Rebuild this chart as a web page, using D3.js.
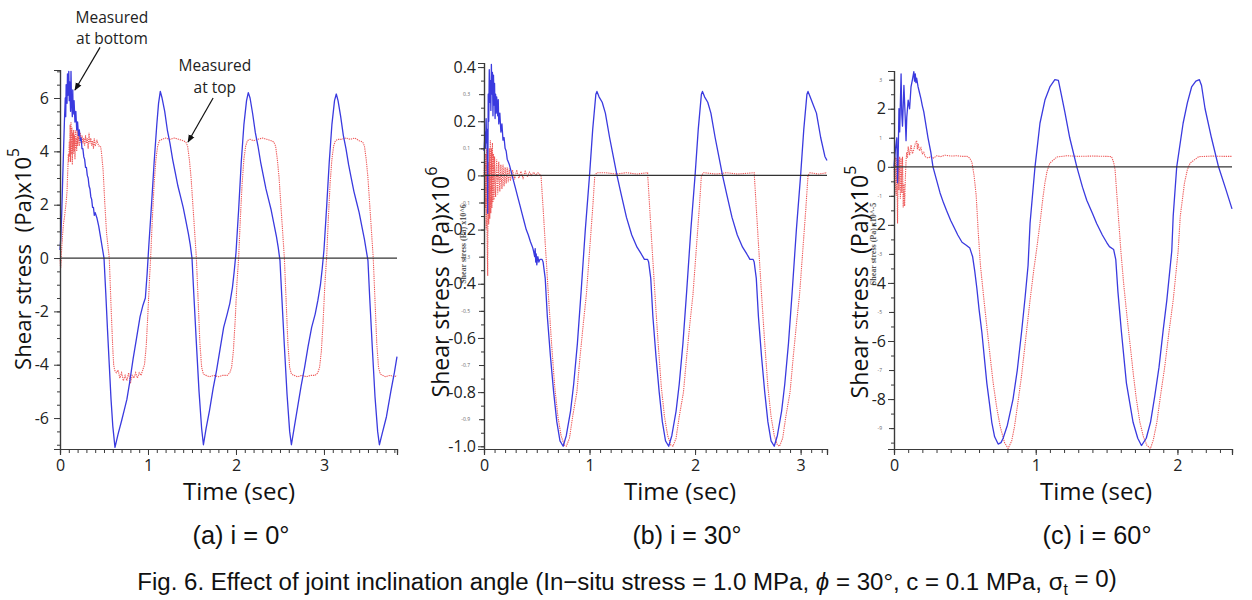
<!DOCTYPE html>
<html><head><meta charset="utf-8">
<script src="https://cdn.jsdelivr.net/npm/d3@7"></script>
<style>body{margin:0;background:#fff}svg{display:block}</style>
</head><body>
<svg id="fig" width="1252" height="600"></svg>
<script>
// ---------------- DATA (time s, shear stress) ----------------
// Panel (a) i = 0°, units x10^5 Pa
const a_bottom = [[0,0.3],[0.01,0.8],[0.02,1.7],[0.03,2.9],[0.04,4.0],[0.05,5.1],[0.06,6.0],[0.065,5.3],[0.07,6.5],[0.08,5.8],[0.085,6.9],[0.09,6.1],[0.10,7.0],[0.105,5.9],[0.11,6.6],[0.12,5.5],[0.125,7.0],[0.13,6.0],[0.14,5.3],[0.145,6.3],[0.15,5.4],[0.16,5.9],[0.17,5.1],[0.18,5.5],[0.19,4.8],[0.20,5.1],[0.21,4.6],[0.22,4.8],[0.23,4.4],[0.24,4.5],[0.25,4.1],[0.26,4.1],[0.27,3.8],[0.28,3.7],[0.29,3.4],[0.30,3.4],[0.31,3.1],[0.32,3.0],[0.33,2.7],[0.34,2.6],[0.35,2.3],[0.36,2.2],[0.37,1.9],[0.38,1.9],[0.39,1.6],[0.40,1.7],[0.42,1.5],[0.44,1.2],[0.46,0.8],[0.48,0.4],[0.50,0.0],[0.52,-1.3],[0.54,-2.7],[0.56,-4.0],[0.58,-5.3],[0.60,-6.3],[0.625,-7.1],[0.66,-6.6],[0.70,-6.1],[0.73,-5.7],[0.76,-5.3],[0.79,-4.7],[0.83,-3.8],[0.87,-3.0],[0.91,-2.2],[0.94,-1.8],[0.97,-1.5],[0.99,-0.6],[1.01,0.5],[1.04,2.0],[1.07,3.6],[1.10,5.0],[1.12,5.8],[1.14,6.25],[1.16,6.0],[1.19,5.5],[1.22,4.8],[1.25,4.3],[1.28,3.7],[1.31,3.2],[1.34,2.7],[1.37,2.3],[1.40,1.9],[1.43,1.4],[1.46,0.9],[1.48,0.5],[1.50,0.0],[1.52,-1.3],[1.55,-3.2],[1.58,-5.0],[1.61,-6.4],[1.63,-7.0],[1.66,-6.4],[1.70,-5.7],[1.74,-4.9],[1.78,-4.2],[1.82,-3.4],[1.86,-2.6],[1.90,-2.1],[1.93,-1.7],[1.96,-1.1],[1.98,-0.5],[2.00,0.2],[2.03,1.8],[2.06,3.6],[2.09,5.0],[2.12,5.9],[2.14,6.2],[2.16,6.0],[2.19,5.4],[2.22,4.7],[2.25,4.2],[2.28,3.6],[2.31,3.1],[2.34,2.6],[2.37,2.2],[2.40,1.8],[2.43,1.3],[2.46,0.8],[2.48,0.4],[2.50,-0.1],[2.52,-1.4],[2.55,-3.3],[2.58,-5.1],[2.61,-6.5],[2.63,-7.0],[2.66,-6.4],[2.70,-5.6],[2.74,-4.8],[2.78,-4.1],[2.82,-3.3],[2.86,-2.6],[2.90,-2.1],[2.93,-1.6],[2.96,-1.0],[2.98,-0.4],[3.00,0.3],[3.03,1.9],[3.06,3.6],[3.09,5.0],[3.12,5.9],[3.14,6.15],[3.16,5.9],[3.19,5.3],[3.22,4.6],[3.25,4.1],[3.28,3.5],[3.31,3.0],[3.34,2.5],[3.37,2.1],[3.40,1.7],[3.43,1.2],[3.46,0.7],[3.48,0.3],[3.50,-0.1],[3.52,-1.5],[3.55,-3.4],[3.58,-5.2],[3.61,-6.5],[3.63,-7.0],[3.66,-6.6],[3.71,-5.95],[3.76,-5.0],[3.80,-4.3],[3.83,-3.7]];
const a_top = [[0,0],[0.005,-0.3],[0.01,-0.35],[0.015,0.1],[0.02,0.4],[0.03,0.9],[0.04,1.3],[0.05,1.5],[0.06,1.8],[0.07,2.1],[0.08,2.5],[0.085,3.0],[0.09,3.4],[0.095,3.9],[0.10,3.6],[0.105,4.4],[0.11,3.8],[0.115,5.0],[0.12,3.6],[0.125,5.1],[0.13,3.9],[0.135,4.9],[0.14,3.5],[0.145,4.7],[0.15,3.9],[0.155,4.8],[0.16,4.0],[0.165,4.6],[0.17,3.7],[0.175,4.8],[0.18,4.1],[0.185,4.5],[0.19,4.0],[0.195,4.9],[0.20,4.2],[0.21,4.6],[0.22,4.2],[0.23,4.7],[0.24,4.3],[0.25,4.6],[0.26,4.3],[0.27,4.5],[0.28,4.2],[0.29,4.6],[0.30,4.3],[0.31,4.5],[0.32,4.1],[0.33,4.7],[0.34,4.3],[0.35,4.5],[0.36,4.2],[0.37,4.4],[0.38,4.1],[0.39,4.5],[0.40,4.2],[0.42,4.4],[0.44,4.2],[0.46,4.2],[0.47,4.0],[0.49,3.3],[0.51,2.0],[0.53,0.9],[0.56,0],[0.58,-1.8],[0.60,-3.4],[0.61,-4.0],[0.62,-4.2],[0.64,-4.3],[0.66,-4.2],[0.68,-4.5],[0.70,-4.3],[0.72,-4.6],[0.74,-4.4],[0.76,-4.6],[0.78,-4.3],[0.80,-4.7],[0.82,-4.4],[0.84,-4.5],[0.86,-4.3],[0.88,-4.5],[0.90,-4.3],[0.92,-4.4],[0.94,-4.2],[0.96,-4.0],[0.98,-3.3],[1.00,-2.0],[1.02,-0.6],[1.03,0],[1.05,1.5],[1.07,2.8],[1.09,3.7],[1.11,4.2],[1.13,4.4],[1.16,4.45],[1.20,4.5],[1.25,4.45],[1.30,4.5],[1.35,4.45],[1.40,4.4],[1.43,4.35],[1.45,4.2],[1.47,3.7],[1.49,3.0],[1.51,2.0],[1.53,1.0],[1.55,0],[1.57,-1.6],[1.59,-3.2],[1.61,-4.1],[1.63,-4.35],[1.66,-4.4],[1.70,-4.45],[1.75,-4.4],[1.80,-4.45],[1.85,-4.4],[1.90,-4.4],[1.93,-4.3],[1.95,-4.1],[1.97,-3.5],[1.99,-2.4],[2.01,-1.0],[2.03,0],[2.05,1.5],[2.07,2.8],[2.09,3.7],[2.11,4.2],[2.13,4.4],[2.16,4.45],[2.20,4.4],[2.25,4.45],[2.30,4.5],[2.35,4.45],[2.40,4.4],[2.43,4.35],[2.45,4.2],[2.47,3.7],[2.49,3.0],[2.51,2.0],[2.53,1.0],[2.55,0],[2.57,-1.6],[2.59,-3.2],[2.61,-4.1],[2.63,-4.35],[2.66,-4.4],[2.70,-4.45],[2.75,-4.4],[2.80,-4.45],[2.85,-4.4],[2.90,-4.4],[2.93,-4.3],[2.95,-4.1],[2.97,-3.5],[2.99,-2.4],[3.01,-1.0],[3.03,0],[3.05,1.5],[3.07,2.8],[3.09,3.7],[3.11,4.2],[3.13,4.4],[3.16,4.45],[3.20,4.45],[3.25,4.5],[3.30,4.45],[3.35,4.5],[3.40,4.4],[3.44,4.35],[3.46,4.2],[3.48,3.7],[3.50,3.0],[3.52,2.0],[3.54,1.0],[3.56,0],[3.58,-1.6],[3.60,-3.2],[3.62,-4.1],[3.64,-4.35],[3.67,-4.4],[3.70,-4.45],[3.75,-4.4],[3.80,-4.45],[3.83,-4.4]];

// Panel (b) i = 30°, units x10^6 Pa
const b_bottom = [[0,0.09],[0.01,0.16],[0.015,0.1],[0.02,0.21],[0.025,0.12],[0.03,0.17],[0.035,-0.14],[0.04,0.3],[0.045,0.2],[0.05,0.39],[0.055,0.27],[0.06,0.35],[0.065,0.24],[0.07,0.41],[0.075,0.3],[0.08,0.38],[0.085,0.22],[0.09,0.37],[0.095,0.26],[0.10,0.34],[0.105,0.21],[0.11,0.3],[0.115,0.23],[0.12,0.29],[0.13,0.22],[0.135,0.28],[0.14,0.19],[0.15,0.23],[0.16,0.16],[0.17,0.19],[0.18,0.13],[0.19,0.14],[0.20,0.1],[0.21,0.09],[0.22,0.06],[0.24,0.04],[0.26,0.01],[0.28,-0.02],[0.30,-0.05],[0.32,-0.08],[0.34,-0.11],[0.36,-0.14],[0.38,-0.17],[0.40,-0.2],[0.42,-0.22],[0.44,-0.245],[0.46,-0.265],[0.47,-0.28],[0.48,-0.3],[0.485,-0.27],[0.49,-0.32],[0.495,-0.29],[0.50,-0.33],[0.51,-0.3],[0.52,-0.32],[0.53,-0.31],[0.55,-0.31],[0.56,-0.32],[0.58,-0.38],[0.60,-0.52],[0.63,-0.67],[0.66,-0.8],[0.69,-0.91],[0.72,-0.98],[0.75,-1.0],[0.78,-0.96],[0.82,-0.87],[0.85,-0.77],[0.885,-0.62],[0.92,-0.43],[0.96,-0.2],[1.00,0],[1.03,0.17],[1.06,0.3],[1.07,0.31],[1.09,0.29],[1.12,0.27],[1.15,0.23],[1.19,0.14],[1.23,0.06],[1.26,0],[1.30,-0.07],[1.35,-0.155],[1.40,-0.22],[1.45,-0.265],[1.49,-0.29],[1.52,-0.31],[1.55,-0.31],[1.56,-0.32],[1.58,-0.38],[1.60,-0.52],[1.63,-0.67],[1.66,-0.8],[1.69,-0.91],[1.72,-0.98],[1.75,-1.0],[1.78,-0.96],[1.82,-0.87],[1.85,-0.77],[1.885,-0.62],[1.92,-0.43],[1.96,-0.2],[2.00,0],[2.03,0.17],[2.06,0.3],[2.07,0.31],[2.09,0.29],[2.12,0.27],[2.15,0.23],[2.19,0.14],[2.23,0.06],[2.26,0],[2.30,-0.07],[2.35,-0.155],[2.40,-0.22],[2.45,-0.265],[2.49,-0.29],[2.52,-0.31],[2.55,-0.31],[2.56,-0.32],[2.58,-0.38],[2.60,-0.52],[2.63,-0.67],[2.66,-0.8],[2.69,-0.91],[2.72,-0.98],[2.75,-1.0],[2.78,-0.96],[2.82,-0.87],[2.85,-0.77],[2.885,-0.62],[2.92,-0.43],[2.96,-0.2],[3.00,0],[3.03,0.17],[3.06,0.3],[3.07,0.31],[3.09,0.29],[3.12,0.26],[3.15,0.23],[3.19,0.14],[3.23,0.07],[3.25,0.055]];
const b_top = [[0,0],[0.005,0.05],[0.01,-0.12],[0.015,0.08],[0.02,-0.2],[0.025,0.1],[0.03,-0.25],[0.035,-0.37],[0.04,0.05],[0.045,-0.18],[0.05,0.1],[0.055,-0.16],[0.06,0.13],[0.065,-0.14],[0.07,0.1],[0.075,-0.12],[0.08,0.12],[0.085,-0.1],[0.09,0.08],[0.095,-0.09],[0.10,0.07],[0.11,-0.08],[0.12,0.06],[0.13,-0.07],[0.14,0.05],[0.15,-0.06],[0.16,0.04],[0.17,-0.05],[0.18,0.04],[0.19,-0.04],[0.20,0.03],[0.21,-0.03],[0.22,0.03],[0.23,-0.025],[0.24,0.025],[0.25,-0.02],[0.27,0.02],[0.29,-0.015],[0.31,0.02],[0.33,-0.01],[0.35,0.015],[0.37,-0.01],[0.39,0.015],[0.41,-0.005],[0.43,0.012],[0.45,0],[0.47,0.012],[0.49,0],[0.51,0.01],[0.54,0],[0.56,-0.12],[0.58,-0.25],[0.61,-0.44],[0.64,-0.62],[0.67,-0.78],[0.70,-0.89],[0.73,-0.96],[0.76,-0.995],[0.78,-1.0],[0.81,-0.97],[0.84,-0.89],[0.88,-0.8],[0.91,-0.67],[0.94,-0.55],[0.97,-0.44],[1.00,-0.28],[1.03,-0.12],[1.05,0],[1.07,0.01],[1.15,0.01],[1.25,0.005],[1.35,0.01],[1.45,0.005],[1.55,0.01],[1.57,-0.12],[1.59,-0.25],[1.62,-0.44],[1.65,-0.62],[1.68,-0.78],[1.71,-0.89],[1.74,-0.96],[1.77,-0.995],[1.79,-1.0],[1.82,-0.97],[1.85,-0.89],[1.89,-0.8],[1.92,-0.67],[1.95,-0.55],[1.98,-0.44],[2.01,-0.28],[2.04,-0.12],[2.06,0],[2.08,0.01],[2.2,0.005],[2.3,0.01],[2.4,0.005],[2.56,0.01],[2.58,-0.12],[2.60,-0.25],[2.63,-0.44],[2.66,-0.62],[2.69,-0.78],[2.72,-0.89],[2.75,-0.96],[2.78,-0.995],[2.80,-1.0],[2.83,-0.97],[2.86,-0.89],[2.90,-0.8],[2.93,-0.67],[2.96,-0.55],[2.99,-0.44],[3.02,-0.28],[3.05,-0.12],[3.07,0],[3.09,0.01],[3.17,0.005],[3.25,0.01]];

// Panel (c) i = 60°, units x10^5 Pa
const c_bottom = [[0,0],[0.01,0.6],[0.02,1.0],[0.025,-0.55],[0.03,0.5],[0.035,2.0],[0.04,1.2],[0.05,3.2],[0.055,1.8],[0.06,1.4],[0.07,2.8],[0.08,1.6],[0.085,0.9],[0.09,1.7],[0.10,2.3],[0.11,2.0],[0.12,2.75],[0.13,3.0],[0.14,3.28],[0.145,2.95],[0.15,3.2],[0.155,2.9],[0.16,3.05],[0.17,2.75],[0.18,2.55],[0.19,2.35],[0.20,2.1],[0.21,1.9],[0.22,1.6],[0.23,1.3],[0.24,1.0],[0.26,0.5],[0.275,0],[0.30,-0.45],[0.325,-0.9],[0.35,-1.25],[0.37,-1.5],[0.40,-1.85],[0.42,-2.05],[0.45,-2.35],[0.48,-2.6],[0.51,-2.7],[0.535,-2.8],[0.555,-3.1],[0.57,-3.6],[0.585,-4.2],[0.60,-4.9],[0.62,-5.7],[0.64,-6.7],[0.655,-7.45],[0.675,-8.2],[0.69,-8.8],[0.71,-9.3],[0.735,-9.55],[0.755,-9.5],[0.77,-9.35],[0.80,-8.9],[0.84,-8.0],[0.87,-7.0],[0.90,-5.7],[0.925,-4.5],[0.946,-3.4],[0.96,-1.95],[0.995,0],[1.03,1.5],[1.065,2.3],[1.10,2.75],[1.135,3.0],[1.16,2.98],[1.18,2.5],[1.205,1.9],[1.24,1.0],[1.29,0],[1.33,-0.7],[1.36,-1.15],[1.40,-1.6],[1.43,-1.95],[1.47,-2.35],[1.50,-2.6],[1.52,-2.75],[1.55,-2.85],[1.565,-3.2],[1.58,-4.3],[1.605,-5.7],[1.64,-7.45],[1.687,-8.8],[1.72,-9.35],[1.746,-9.6],[1.78,-9.35],[1.81,-8.8],[1.84,-7.9],[1.87,-6.9],[1.90,-5.6],[1.925,-4.6],[1.96,-2.9],[1.97,-1.7],[1.995,0],[2.04,1.5],[2.07,2.2],[2.10,2.75],[2.13,2.95],[2.155,3.0],[2.17,2.8],[2.195,2.0],[2.24,1.0],[2.29,0],[2.34,-0.75],[2.385,-1.45]];
const c_top = [[0,0],[0.005,-0.9],[0.01,0.35],[0.015,-1.0],[0.02,0.3],[0.025,-1.95],[0.03,0.25],[0.035,-0.8],[0.04,0.35],[0.045,-1.1],[0.05,0.3],[0.055,-0.9],[0.06,0.35],[0.065,-1.4],[0.07,-0.6],[0.075,-1.35],[0.08,-0.4],[0.085,0.2],[0.09,0.5],[0.095,0.3],[0.10,0.7],[0.11,0.4],[0.12,0.75],[0.13,0.45],[0.14,0.6],[0.15,0.8],[0.16,0.9],[0.165,0.6],[0.17,0.8],[0.18,0.55],[0.19,0.65],[0.20,0.45],[0.21,0.5],[0.22,0.35],[0.24,0.3],[0.26,0.35],[0.28,0.3],[0.30,0.38],[0.33,0.35],[0.36,0.4],[0.40,0.37],[0.44,0.38],[0.48,0.36],[0.515,0.36],[0.535,0.3],[0.55,0.15],[0.565,-0.3],[0.58,-1.0],[0.595,-2.3],[0.61,-3.4],[0.635,-4.6],[0.655,-5.5],[0.68,-6.6],[0.70,-7.45],[0.725,-8.3],[0.75,-8.96],[0.78,-9.5],[0.805,-9.7],[0.83,-9.45],[0.85,-8.96],[0.875,-8.1],[0.90,-7.2],[0.93,-5.9],[0.96,-4.6],[0.985,-3.6],[1.005,-2.9],[1.03,-1.95],[1.05,-1.1],[1.065,-0.55],[1.08,-0.15],[1.10,0.13],[1.15,0.34],[1.22,0.38],[1.3,0.36],[1.4,0.37],[1.5,0.36],[1.535,0.35],[1.55,0.15],[1.56,-0.1],[1.575,-1.14],[1.60,-2.85],[1.62,-4.0],[1.645,-5.2],[1.67,-6.3],[1.69,-7.2],[1.71,-8.0],[1.735,-8.8],[1.76,-9.3],[1.785,-9.6],[1.81,-9.7],[1.83,-9.4],[1.855,-8.8],[1.88,-7.9],[1.91,-6.9],[1.94,-5.7],[1.97,-4.6],[2.005,-2.9],[2.02,-1.7],[2.05,-0.55],[2.07,-0.1],[2.09,0.13],[2.15,0.35],[2.25,0.37],[2.32,0.36],[2.385,0.36]];

// Tick labels
const a_yTicks = [-6,-4,-2,0,2,4,6];
const a_yLabels = ["-6","-4","-2","0","2","4","6"];
const b_yTicks = [-1.0,-0.8,-0.6,-0.4,-0.2,0,0.2,0.4];
const b_yLabels = ["-1.0","-0.8","-0.6","-0.4","-0.2","0","0.2","0.4"];
const b_ySmall = [-0.9,-0.7,-0.5,-0.3,-0.1,0.1,0.3];
const b_ySmallLabels = ["-0.9","-0.7","-0.5","-0.3","-0.1","0.1","0.3"];
const c_yTicks = [-8,-6,-4,-2,0,2];
const c_yLabels = ["-8","-6","-4","-2","0","2"];
const c_ySmall = [-9,-7,-5,-3,-1,1,3];
const c_ySmallLabels = ["-9","-7","-5","-3","-1","1","3"];
const a_xTicks = [0,1,2,3];
const b_xTicks = [0,1,2,3];
const c_xTicks = [0,1,2];

const yTitles = ["5","6","5"];
const subTitles = ["(a) i = 0°","(b) i = 30°","(c) i = 60°"];

// ---------------- LAYOUT ----------------
const panels = [
  {bottom:a_bottom, top:a_top, xDom:[0,3.83], yDom:[-7.16,7.05], xR:[60,397], yR:[449,70],
   yTicks:a_yTicks, yLabels:a_yLabels, ySmall:[], ySmallLabels:[], yMinor:0.5, xTicks:a_xTicks,
   titleX:22, titleY:259, titleLen:222, tinyTitle:null, labPad:5, subX:241, xtX:239},
  {bottom:b_bottom, top:b_top, xDom:[0,3.25], yDom:[-1.01,0.415], xR:[484,827], yR:[449,63],
   yTicks:b_yTicks, yLabels:b_yLabels, ySmall:b_ySmall, ySmallLabels:b_ySmallLabels, yMinor:0.05, xTicks:b_xTicks,
   titleX:440, titleY:282, titleLen:231, tinyTitle:"Shear stress (Pa) x10^6", tinyX:463, labPad:2, subX:687, xtX:680},
  {bottom:c_bottom, top:c_top, xDom:[0,2.385], yDom:[-9.72,3.3], xR:[894,1232], yR:[449,71],
   yTicks:c_yTicks, yLabels:c_yLabels, ySmall:c_ySmall, ySmallLabels:c_ySmallLabels, yMinor:0.5, xTicks:c_xTicks,
   titleX:859, titleY:282, titleLen:233, tinyTitle:"Shear stress (Pa) x10^-5", tinyX:873, labPad:2, subX:1097, xtX:1096}
];

const svg = d3.select("#fig");
const FONT = "'Open Sans','Noto Sans',sans-serif";
const CAPF = "'Liberation Sans',Arial,sans-serif";
const BLUE = "#3a3adf", RED = "#ee5a5a", AXC = "#3a3a3a";

function fit(sel, target){
  const l = sel.node().getComputedTextLength();
  const fs = parseFloat(sel.attr("font-size"));
  sel.attr("font-size", (fs*target/l).toFixed(2));
}

panels.forEach((p,i)=>{
  const x = d3.scaleLinear().domain(p.xDom).range(p.xR);
  const y = d3.scaleLinear().domain(p.yDom).range(p.yR);
  const g = svg.append("g");
  const line = d3.line().x(d=>x(d[0])).y(d=>y(d[1]));

  g.append("path").datum(p.top).attr("d", line).attr("fill","none")
    .attr("stroke",RED).attr("stroke-width",1.1).attr("stroke-dasharray","1.3,0.9");
  g.append("path").datum(p.bottom).attr("d", line).attr("fill","none")
    .attr("stroke",BLUE).attr("stroke-width",1.3).attr("stroke-linejoin","round");

  // zero line
  g.append("line").attr("x1",x(p.xDom[0])).attr("x2",x(p.xDom[1]))
    .attr("y1",y(0)).attr("y2",y(0)).attr("stroke","#333").attr("stroke-width",1.2);

  // Y axis minor ticks
  const yMin = d3.range(Math.ceil(p.yDom[0]/p.yMinor), Math.floor(p.yDom[1]/p.yMinor)+1).map(k=>+(k*p.yMinor).toFixed(3));
  g.append("g").attr("transform",`translate(${p.xR[0]},0)`)
    .call(d3.axisLeft(y).tickValues(yMin).tickSize(3).tickFormat(""));
  if (p.ySmall.length){
    const ys = g.append("g").attr("transform",`translate(${p.xR[0]},0)`)
      .call(d3.axisLeft(y).tickValues(p.ySmall).tickSize(5).tickPadding(i===1?9:7)
        .tickFormat((d,k)=>p.ySmallLabels[k]));
    ys.selectAll("text").attr("font-size",5).attr("fill","#666").attr("font-family",FONT);
    ys.select(".domain").remove();
  }
  const yAx = g.append("g").attr("transform",`translate(${p.xR[0]},0)`)
    .call(d3.axisLeft(y).tickValues(p.yTicks).tickSize(6).tickPadding(p.labPad)
      .tickFormat((d,k)=>p.yLabels[k]));
  yAx.selectAll("text").attr("font-size",16).attr("fill","#222").attr("font-family",FONT);

  // X axis
  const xMin = d3.range(0, Math.floor(p.xDom[1]*10)+1).map(k=>k/10);
  g.append("g").attr("transform",`translate(0,${p.yR[0]})`)
    .call(d3.axisBottom(x).tickValues(xMin).tickSize(4).tickFormat(""));
  const xAx = g.append("g").attr("transform",`translate(0,${p.yR[0]})`)
    .call(d3.axisBottom(x).tickValues(p.xTicks).tickSize(6).tickPadding(5).tickFormat(d3.format("d")));
  xAx.selectAll("text").attr("font-size",16).attr("fill","#222").attr("font-family",FONT);

  g.selectAll(".domain").attr("stroke",AXC).attr("stroke-width",1.2);
  g.selectAll(".tick line").attr("stroke",AXC);

  // y title
  const yt = g.append("text").attr("transform",`translate(${p.titleX},${p.titleY}) rotate(-90)`)
    .attr("text-anchor","middle").attr("dominant-baseline","central")
    .attr("font-family",FONT).attr("font-size",22).attr("fill","#111");
  yt.append("tspan").text("Shear stress\u00a0\u00a0(Pa)x10");
  yt.append("tspan").attr("font-size","0.7em").attr("dy","-0.55em").text(yTitles[i]);
  fit(yt, p.titleLen);

  if (p.tinyTitle){
    g.append("text").attr("transform",`translate(${p.tinyX},244) rotate(-90)`)
      .attr("text-anchor","middle").attr("dominant-baseline","central")
      .attr("font-family","'Liberation Serif',serif").attr("font-weight","bold")
      .attr("font-size",8).attr("fill","#555").text(p.tinyTitle);
  }

  // x title
  const xt = g.append("text").attr("x",p.xtX)
    .attr("y",500).attr("text-anchor","middle").attr("font-family",FONT)
    .attr("font-size",22).attr("fill","#111").text("Time (sec)");
  fit(xt,112);

  // subtitle
  const st = svg.append("text").attr("x",p.subX).attr("y",544).attr("text-anchor","middle")
    .attr("font-family",CAPF).attr("font-size",19).attr("fill","#111").text(subTitles[i]);
  fit(st, i===0?97:109);

  // annotations on panel (a)
  if (i===0){
    const ann = [
      {text:["Measured","at bottom"], tx:0.59, ty:[8.8,8.02], from:[0.455,7.9], to:[0.17,6.3]},
      {text:["Measured","at top"], tx:1.76, ty:[7.0,6.19], from:[1.74,6.0], to:[1.455,4.35]}
    ];
    svg.append("defs").append("marker").attr("id","ah").attr("viewBox","0 0 10 10")
      .attr("refX",9).attr("refY",5).attr("markerWidth",8).attr("markerHeight",8)
      .attr("orient","auto").attr("markerUnits","userSpaceOnUse")
      .append("path").attr("d","M0,1 L10,5 L0,9 z").attr("fill","#111");
    ann.forEach(a=>{
      a.text.forEach((t,k)=>{
        g.append("text").attr("x",x(a.tx)).attr("y",y(a.ty[k])).attr("text-anchor","middle")
          .attr("font-family",FONT).attr("font-size",15.5).attr("fill","#222").text(t);
      });
      g.append("line").attr("x1",x(a.from[0])).attr("y1",y(a.from[1]))
        .attr("x2",x(a.to[0])).attr("y2",y(a.to[1])).attr("stroke","#111").attr("stroke-width",1.2)
        .attr("marker-end","url(#ah)");
    });
  }
});

// caption
const cap = svg.append("text").attr("x",627).attr("y",590).attr("text-anchor","middle")
  .attr("font-family",CAPF).attr("font-size",19).attr("fill","#111");
cap.append("tspan").text("Fig. 6. Effect of joint inclination angle (In\u2212situ stress = 1.0 MPa, ");
cap.append("tspan").attr("font-style","italic").text("\u03d5");
cap.append("tspan").text(" = 30°, c = 0.1 MPa, \u03c3");
cap.append("tspan").attr("font-size","0.65em").attr("dy","0.3em").text("t");
cap.append("tspan").attr("dy","-0.3em").text(" = 0)");
fit(cap, 980);
</script>
</body></html>
